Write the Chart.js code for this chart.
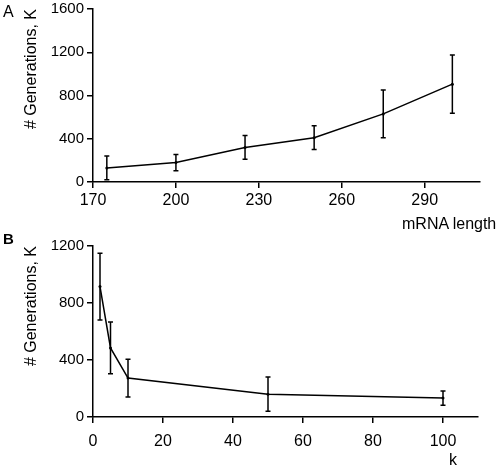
<!DOCTYPE html>
<html>
<head>
<meta charset="utf-8">
<script src="https://cdn.jsdelivr.net/npm/chart.js@4.4.1/dist/chart.umd.min.js"></script>
<style>
  body { margin: 0; background: #fff; }
  #wrap { position: relative; width: 498px; height: 468px; font-family: "Liberation Sans", Arial, sans-serif; color: #000; }
  canvas { position: absolute; left: 0; }
  .lbl { position: absolute; white-space: nowrap; }
</style>
</head>
<body>
<div id="wrap">
  <canvas id="chartA" width="498" height="235" style="top:0"></canvas>
  <canvas id="chartB" width="498" height="233" style="top:235px"></canvas>
  <div class="lbl" style="left:3px; top:3px; font-size:16px;">A</div>
  <div class="lbl" style="left:3px; top:230px; font-size:15px; font-weight:bold;">B</div>
  <div class="lbl" style="left:402px; top:215px; font-size:16px;">mRNA length</div>
  <div class="lbl" style="left:449px; top:451px; font-size:16px;">k</div>
</div>
<script>
// panel A - generations vs mRNA length
const lengthA = [175, 200, 225, 250, 275, 300]
const genA = [130, 180, 320, 410, 630, 905]
const errA = [110, 75, 110, 110, 220, 270]
const xTicksA = [170, 200, 230, 260, 290]
const yTicksA = [0, 400, 800, 1200, 1600]

// panel B - generations vs k
const kB = [2, 5, 10, 50, 100]
const genB = [915, 485, 273, 160, 133]
const errB = [235, 182, 132, 120, 50]
const xTicksB = [0, 20, 40, 60, 80, 100]
const yTicksB = [0, 400, 800, 1200]

Chart.defaults.font.family = '"Liberation Sans", Arial, sans-serif'
Chart.defaults.font.size = 16
Chart.defaults.color = '#000'

// vertical error bars with small caps
const errorBars = {
  id: 'errorBars',
  afterDatasetsDraw(chart) {
    const ctx = chart.ctx
    const ds = chart.data.datasets[0]
    const x = chart.scales.x
    const y = chart.scales.y
    ctx.save()
    ctx.strokeStyle = '#000'
    ctx.lineWidth = 1.5
    ds.data.forEach((p, i) => {
      const px = x.getPixelForValue(p.x)
      const top = y.getPixelForValue(p.y + ds.errors[i])
      const bot = y.getPixelForValue(p.y - ds.errors[i])
      ctx.beginPath()
      ctx.moveTo(px, top); ctx.lineTo(px, bot)
      ctx.moveTo(px - 2.5, top); ctx.lineTo(px + 2.5, top)
      ctx.moveTo(px - 2.5, bot); ctx.lineTo(px + 2.5, bot)
      ctx.stroke()
    })
    ctx.restore()
  }
}

function makeChart(id, xs, ys, errs, xTicks, yTicks, xMin, xMax, yMax, opt) {
  new Chart(document.getElementById(id), {
    type: 'scatter',
    data: {
      datasets: [{
        data: xs.map((v, i) => ({ x: v, y: ys[i] })),
        errors: errs,
        showLine: true,
        borderColor: '#000',
        borderWidth: 1.5,
        pointRadius: 1.5,
        pointBackgroundColor: '#000',
        pointBorderWidth: 0,
        tension: 0
      }]
    },
    options: {
      responsive: false,
      animation: false,
      layout: { padding: { top: opt.top, right: opt.right, left: 0, bottom: 0 } },
      plugins: { legend: { display: false }, tooltip: { enabled: false } },
      scales: {
        x: {
          type: 'linear',
          min: xMin,
          max: xMax,
          afterBuildTicks: s => { s.ticks = xTicks.map(v => ({ value: v })) },
          afterFit: s => { s.height = opt.xh; s.paddingLeft = 0; s.paddingRight = 0 },
          border: { color: '#000', width: 1.5 },
          grid: { drawOnChartArea: false, color: '#000', tickLength: 6, lineWidth: 1.5 },
          ticks: { autoSkip: false, maxRotation: 0, padding: opt.xpad, font: { size: 16 }, callback: v => String(v) }
        },
        y: {
          min: 0,
          max: yMax,
          afterBuildTicks: s => { s.ticks = yTicks.map(v => ({ value: v })) },
          afterFit: s => { s.width = 93; s.paddingTop = 0; s.paddingBottom = 0 },
          border: { color: '#000', width: 1.5 },
          grid: { drawOnChartArea: false, color: '#000', tickLength: 6, lineWidth: 1.5 },
          ticks: { padding: 3, font: { size: 15 }, callback: v => String(v) },
          title: {
            display: true,
            text: '# Generations, K',
            align: 'end',
            padding: { top: 22, bottom: 0 }
          }
        }
      }
    },
    plugins: [errorBars]
  })
}

makeChart('chartA', lengthA, genA, errA, xTicksA, yTicksA, 170, 310, 1600,
  { top: 9, right: 18, xh: 53, xpad: 3 })
makeChart('chartB', kB, genB, errB, xTicksB, yTicksB, 0, 110, 1200,
  { top: 11, right: 20, xh: 51, xpad: 9 })
</script>
</body>
</html>
